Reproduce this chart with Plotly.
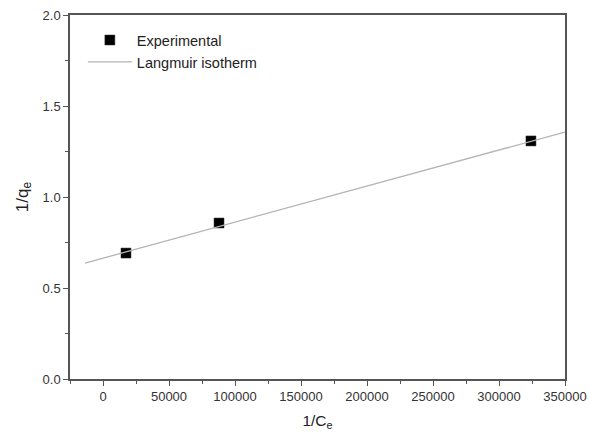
import plotly.graph_objects as go

# Data
exp_x = [17400, 87900, 324200]
exp_y = [0.692, 0.857, 1.308]

fit_x = [-13600, 350000]
fit_y = [0.637, 1.357]

x_ticks = [0, 50000, 100000, 150000, 200000, 250000, 300000, 350000]
y_ticks = [0.0, 0.5, 1.0, 1.5, 2.0]

FONT = "Liberation Sans, Arial, sans-serif"

fig = go.Figure()
fig.add_trace(go.Scatter(
    x=exp_x, y=exp_y, mode="markers", name="Experimental",
    marker=dict(symbol="square", size=10, color="black",
                line=dict(color="#333", width=0.5)),
))
fig.add_trace(go.Scatter(
    x=fit_x, y=fit_y, mode="lines", name="Langmuir isotherm",
    line=dict(color="#b4b4b4", width=1.3),
))

axis_common = dict(
    showline=True, linecolor="#555", linewidth=1.5, mirror=True,
    showgrid=False, zeroline=False, ticks="outside", ticklen=5,
    tickwidth=1.3, tickcolor="#555", automargin=False,
    tickfont=dict(family=FONT, size=13, color="#333"),
)

fig.update_xaxes(
    range=[-25000, 350000], tickvals=x_ticks, ticktext=[str(v) for v in x_ticks],
    minor=dict(ticks="outside", ticklen=3, dtick=25000, tick0=0, tickcolor="#555", tickwidth=1.3),
    title=dict(text="1/C<sub>e</sub>", font=dict(family=FONT, size=15.5, color="#222"), standoff=12),
    **axis_common,
)
fig.update_yaxes(
    range=[0, 2.0], tickvals=y_ticks, ticktext=[f"{v:.1f}" for v in y_ticks],
    minor=dict(ticks="outside", ticklen=3, dtick=0.25, tick0=0, tickcolor="#555", tickwidth=1.3),
    title=dict(text="1/q<sub>e</sub>", font=dict(family=FONT, size=17, color="#222"), standoff=10),
    **axis_common,
)

fig.update_layout(
    width=590, height=441,
    margin=dict(l=70, r=25, t=15, b=62, autoexpand=False),
    paper_bgcolor="white", plot_bgcolor="white",
    showlegend=True,
    legend=dict(
        x=0.026, y=0.975, xanchor="left", yanchor="top",
        bgcolor="rgba(0,0,0,0)", borderwidth=0,
        font=dict(family=FONT, size=14.5, color="#222"),
        tracegroupgap=0, itemwidth=44,
    ),
)

fig.write_html(
    "out.html",
    config={"displayModeBar": False},
    post_script="document.body.style.margin='0';document.body.style.overflow='hidden';",
)
